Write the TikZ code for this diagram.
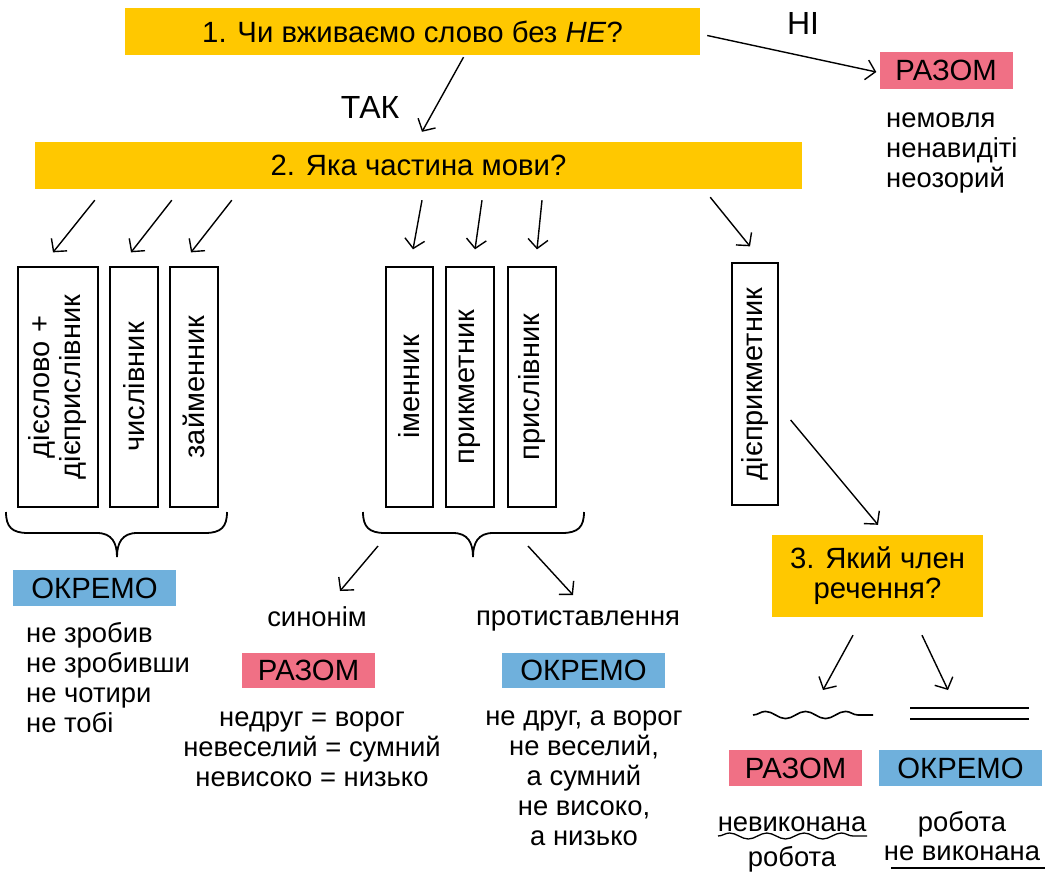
\documentclass[tikz,border=0pt]{standalone}
\usepackage{fontspec}
\setmainfont{Liberation Sans}
\usetikzlibrary{arrows.meta,decorations.pathmorphing}
\definecolor{qyellow}{RGB}{255,200,0}
\definecolor{qred}{RGB}{240,112,133}
\definecolor{qblue}{RGB}{111,176,220}
\begin{document}
\begin{tikzpicture}[x=1pt,y=-1pt,
  txt/.style={font=\fontsize{27.4}{30}\selectfont, inner sep=0pt, align=center},
  big/.style={font=\fontsize{29.3}{30}\selectfont},
  ybox/.style={txt, big, fill=qyellow},
  rbox/.style={txt, big, fill=qred, minimum width=133pt, minimum height=36pt},
  bbox/.style={txt, big, fill=qblue, minimum width=163pt, minimum height=36pt},
  vbox/.style={draw, line width=1.3pt, minimum height=240pt, inner sep=0pt},
  rtxt/.style={txt, font=\fontsize{29}{31}\selectfont, rotate=90},
  lbl/.style={txt, font=\fontsize{32}{34}\selectfont},
  arr/.style={line width=1.4pt, -{Straight Barb[length=9pt,width=20pt,line width=1.4pt]}},
  brace/.style={line width=1.8pt},
  wave/.style={line width=1.6pt, decorate, decoration={snake, amplitude=3.6pt}}
]
\useasboundingbox (0,0) rectangle (1056,875);

% question boxes
\node[ybox, minimum width=575pt, minimum height=47pt] (q1) at (412.5,31.5) {1. Чи вживаємо слово без \textit{НЕ}?};
\node[ybox, minimum width=767pt, minimum height=47pt] (q2) at (418.5,165.5) {2. Яка частина мови?};
\node[ybox, minimum width=211pt, minimum height=82pt] (q3) at (877.5,576) {3. Який член\\речення?};

\node[lbl] (ni) at (803,23) {НІ};
\node[lbl] (tak) at (370,107) {ТАК};

% top right
\node[rbox] (r1) at (946,70.5) {РАЗОМ};
\node[txt, align=left, anchor=west] (ex1) at (886,153) {немовля\\ненавидіті\\неозорий};

% vertical boxes
\node[vbox, minimum width=80pt] (b1) at (58,387) {};
\node[rtxt] at (b1) {дієслово +\\дієприслівник};
\node[vbox, minimum width=48pt] (b2) at (134,387) {};
\node[rtxt] at (b2) {числівник};
\node[vbox, minimum width=48pt] (b3) at (194,387) {};
\node[rtxt] at (b3) {займенник};
\node[vbox, minimum width=47pt] (b4) at (409.5,387) {};
\node[rtxt] at (b4) {іменник};
\node[vbox, minimum width=48pt] (b5) at (470,387) {};
\node[rtxt] at (b5) {прикметник};
\node[vbox, minimum width=48pt] (b6) at (532,387) {};
\node[rtxt] at (b6) {прислівник};
\node[vbox, minimum width=46pt, minimum height=242pt] (b7) at (755,384) {};
\node[rtxt] at (b7) {дієприкметник};

% braces
\draw[brace] (6,512) .. controls (6,527) and (12,533) .. (28,533) -- (97,533)
  .. controls (112,533) and (117,543) .. (117,557)
  .. controls (117,543) and (122,533) .. (137,533) -- (205,533)
  .. controls (221,533) and (227,527) .. (227,512);
\draw[brace] (363,512) .. controls (363,527) and (369,533) .. (385,533) -- (453,533)
  .. controls (468,533) and (473,543) .. (473,557)
  .. controls (473,543) and (478,533) .. (493,533) -- (562,533)
  .. controls (578,533) and (584,527) .. (584,512);
\coordinate (br2l) at (378,546);
\coordinate (br2r) at (528,546);

% left group result
\node[bbox] (o1) at (94.5,588) {ОКРЕМО};
\node[txt, align=left, anchor=west] (ex2) at (26,678) {не зробив\\не зробивши\\не чотири\\не тобі};

% middle group
\node[txt] (syn) at (317,617) {синонім};
\node[txt] (prot) at (578,621) {протиставлення};
\node[rbox, minimum height=35pt] (r2) at (308.5,670.5) {РАЗОМ};
\node[bbox, minimum height=35pt] (o2) at (583.5,670.5) {ОКРЕМО};
\node[txt] (ex3) at (312,749) {недруг = ворог\\невеселий = сумний\\невисоко = низько};
\node[txt] (ex4) at (584,778) {не друг, а ворог\\не веселий,\\а сумний\\не високо,\\а низько};

% right group
\draw[wave, decoration={segment length=40pt}] (753,715) -- (873,715);
\draw[line width=1.6pt] (910,708) -- (1029,708) (910,719) -- (1029,719);
\coordinate (wv) at (813,715);
\coordinate (dl) at (969,713);
\node[rbox] (r3) at (795.5,768) {РАЗОМ};
\node[bbox] (o3) at (960.5,768) {ОКРЕМО};
\node[txt] (ex5a) at (792,824) {невиконана};
\node[txt] (ex5b) at (792,859) {робота};
\draw[wave, line width=1.3pt, decoration={segment length=37.25pt, amplitude=3pt}] (718,836) -- (867,836);
\node[txt] (ex6a) at (962,824) {робота};
\node[txt] (ex6b) at (962,853) {не виконана};
\draw[line width=1.4pt] (891,868) -- (1045,868);

% connectors
\draw[arr] ([shift={(7,4)}]q1.east) -- ([shift={(-3,1.5)}]r1.west);
\draw[arr] ([shift={(51,2)}]q1.south) -- ([shift={(3.5,-10)}]q2.north);
\draw[arr] ([shift={(60,11)}]q2.south west) -- ([shift={(-5,-14)}]b1.north);
\draw[arr] ([shift={(137,11)}]q2.south west) -- ([shift={(-3,-14)}]b2.north);
\draw[arr] ([shift={(197,11)}]q2.south west) -- ([shift={(-3,-14)}]b3.north);
\draw[arr] ([shift={(3.5,11)}]q2.south) -- ([shift={(3.5,-17)}]b4.north);
\draw[arr] ([shift={(63.5,11)}]q2.south) -- ([shift={(5,-17)}]b5.north);
\draw[arr] ([shift={(123.5,11)}]q2.south) -- ([shift={(5,-17)}]b6.north);
\draw[arr] ([shift={(-92,8)}]q2.south east) -- ([shift={(-5,-16)}]b7.north);
\draw[arr] ([shift={(12,36)}]b7.east) -- ([shift={(0.5,-10)}]q3.north);
\draw[arr] (br2l) -- ([shift={(23,-26)}]syn.center);
\draw[arr] (br2r) -- ([shift={(-5,-26)}]prot.center);
\draw[arr] ([shift={(-24.5,18)}]q3.south) -- ([shift={(10,-25)}]wv);
\draw[arr] ([shift={(44.5,18)}]q3.south) -- ([shift={(-21,-23)}]dl);
\end{tikzpicture}
\end{document}
